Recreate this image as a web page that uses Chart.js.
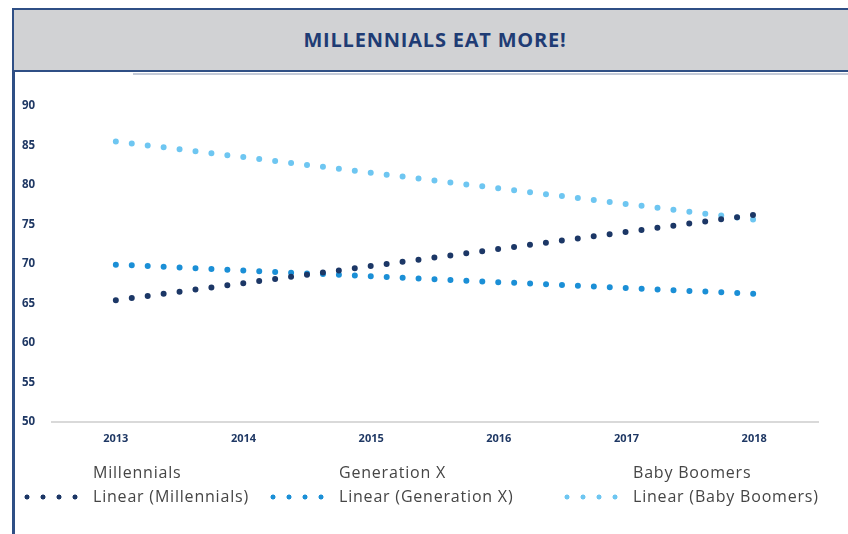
<!DOCTYPE html>
<html>
<head>
<meta charset="utf-8">
<script src="https://cdn.jsdelivr.net/npm/chart.js@4.4.1/dist/chart.umd.min.js"></script>
<style>
  html, body { margin: 0; padding: 0; background: #ffffff; }
  body { width: 848px; height: 534px; position: relative; overflow: hidden; font-family: 'Open Sans', sans-serif; }
  #chart { position: absolute; left: 0; top: 0; }
  #frameLeft { position: absolute; left: 12px; top: 8px; width: 2.5px; height: 526px; background: #2f4f85; }
  #header { position: absolute; left: 12px; top: 8px; right: 0; height: 59.5px;
            background: #d1d2d4; border-top: 2.5px solid #2f4f85; border-bottom: 2.5px solid #2f4f85; border-left: 2.5px solid #2f4f85;
            display: flex; align-items: center; justify-content: center; }
  #header h1 { margin: 0; font-family: 'Open Sans', sans-serif; font-weight: 700; font-size: 20px; letter-spacing: 0.8px;
               color: #1f3c74; padding-left: 8px; }
  #shadow { position: absolute; left: 133px; right: 0; top: 72.5px; height: 2px; background: #c3cad8; }
  .lg { position: absolute; font-family: 'Open Sans', sans-serif; font-size: 16px; letter-spacing: 0.8px; color: #454545; white-space: nowrap; line-height: 20px; }
  .dots { position: absolute; height: 6px; width: 64px; background-repeat: repeat-x; background-size: 16px 6px; }
</style>
</head>
<body>
<canvas id="chart" width="848" height="534"></canvas>
<div id="frameLeft"></div>
<div id="header"><h1 id="title"></h1></div>
<div id="shadow"></div>
<div id="legend"></div>
<script>
// ---- data ----
const chartTitle = 'MILLENNIALS EAT MORE!';
const years = ['2013', '2014', '2015', '2016', '2017', '2018'];
const seriesNames = ['Millennials', 'Generation X', 'Baby Boomers'];
const trendNames = ['Linear (Millennials)', 'Linear (Generation X)', 'Linear (Baby Boomers)'];
// linear trend lines: start (2013) and end (2018) values
const millennialsTrend = [65.4, null, null, null, null, 76.2];
const genXTrend = [69.9, null, null, null, null, 66.2];
const boomersTrend = [85.5, null, null, null, null, 75.6];
const yTicks = [50, 55, 60, 65, 70, 75, 80, 85, 90];

// ---- styles ----
const colors = ['#1c3766', '#1b8fd6', '#6ec6f1'];
const dotGaps = [16.07, 15.95, 16.05];
const navy = '#1f3864';

document.getElementById('title').textContent = chartTitle;

// legend (HTML, three columns)
const legendCols = [93, 339, 633];
const legend = document.getElementById('legend');
seriesNames.forEach((name, i) => {
  const a = document.createElement('div');
  a.className = 'lg'; a.textContent = name;
  a.style.left = legendCols[i] + 'px'; a.style.top = '462px';
  legend.appendChild(a);
  const b = document.createElement('div');
  b.className = 'lg'; b.textContent = trendNames[i];
  b.style.left = legendCols[i] + 'px'; b.style.top = '486px';
  legend.appendChild(b);
  const d = document.createElement('div');
  d.className = 'dots';
  d.style.left = (legendCols[i] - 74) + 'px'; d.style.top = '494px';
  d.style.backgroundImage = 'radial-gradient(circle at 8px 3px, ' + colors[i] + ' 2.2px, rgba(255,255,255,0) 2.8px)';
  legend.appendChild(d);
});

const trendData = [millennialsTrend, genXTrend, boomersTrend];
const datasets = trendData.map((d, i) => ({
  label: trendNames[i],
  data: d,
  borderColor: colors[i],
  backgroundColor: colors[i],
  borderWidth: 6,
  borderDash: [0, dotGaps[i]],
  borderCapStyle: 'round',
  pointRadius: 0,
  spanGaps: true,
  fill: false,
  tension: 0
}));

new Chart(document.getElementById('chart'), {
  type: 'line',
  data: { labels: years, datasets: datasets },
  options: {
    responsive: false,
    animation: false,
    layout: { padding: { left: 22, top: 106, right: 30, bottom: 0 } },
    plugins: { legend: { display: false }, tooltip: { enabled: false }, title: { display: false } },
    scales: {
      x: {
        type: 'category',
        offset: true,
        grid: { display: false, drawTicks: false },
        border: { display: true, color: '#d9d9d9', width: 2 },
        ticks: { color: navy, font: { family: 'Open Sans', weight: 'bold', size: 11 }, padding: 11, maxRotation: 0 },
        afterFit: s => { s.height = 534 - 421.7; }
      },
      y: {
        min: 50, max: 90,
        afterBuildTicks: s => { s.ticks = yTicks.map(v => ({ value: v })); },
        grid: { display: false, drawTicks: false },
        border: { display: false },
        ticks: { color: navy, font: { family: 'Open Sans', weight: 'bold', size: 11.5 }, crossAlign: 'far', padding: 0 },
        afterFit: s => { s.width = 30; }
      }
    }
  }
});
</script>
</body>
</html>
